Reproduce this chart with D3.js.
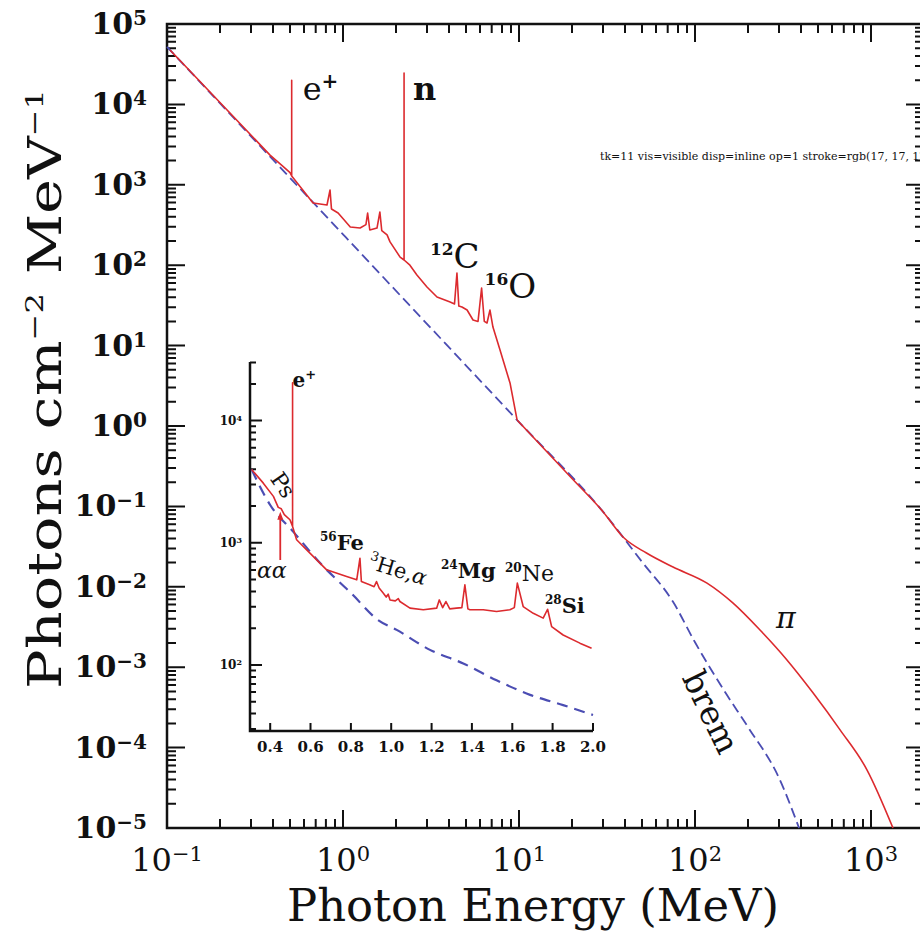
<!DOCTYPE html>
<html>
<head>
<meta charset="utf-8">
<script src="https://cdn.jsdelivr.net/npm/d3@7"></script>
<style>
  body { margin: 0; background: #fff; }
  svg text { font-family: "DejaVu Serif", serif; fill: #111; }
</style>
</head>
<body>
<div id="chart"></div>
<script>
// ---- main spectrum, 0.1 - 10 MeV (lines + continuum), MeV / photons cm^-2 MeV^-1
const lineE = [0.104, 0.385, 0.456, 0.500, 0.511, 0.511, 0.511, 0.676, 0.811, 0.844, 0.86, 0.938,
  1.10, 1.25, 1.35, 1.38, 1.42, 1.56, 1.62, 1.66, 1.78, 1.85, 2.11, 2.223, 2.223, 2.223, 2.40,
  2.63, 3.00, 3.42, 4.06, 4.30, 4.44, 4.55, 4.74, 5.07, 5.48, 5.85, 6.13, 6.35, 6.58, 6.84, 7.11,
  7.80, 8.89, 9.75];
const lineFlux = [4.75e4, 2.34e3, 1.70e3, 1.42e3, 1.29e3, 2.0e4, 1.29e3, 594, 561, 861, 500, 446,
  299, 290, 320, 446, 274, 290, 459, 270, 238, 195, 126, 116, 2.45e4, 116, 100,
  75.5, 53.6, 40.2, 34.8, 33, 80, 31, 30.2, 27.7, 20.8, 20, 52, 20, 19.1, 27.7, 17.0,
  8.8, 3.43, 1.19];

// ---- pion bump continuum above 10 MeV
const pionE = [9.75, 20, 30, 39, 53, 75, 117, 164, 234, 333, 468, 667, 948, 1333];
const pionFlux = [1.19, 0.222, 0.086, 0.0416, 0.0263, 0.0176, 0.0111, 6.3e-3, 2.9e-3, 1.23e-3,
  4.8e-4, 1.66e-4, 5.3e-5, 1.0e-5];

// ---- bremsstrahlung (dashed)
const bremE = [0.1, 1, 10, 30, 50, 75, 100, 150, 200, 300, 390];
const bremFlux = [5.2e4, 242, 1.12, 0.086, 0.0204, 6.5e-3, 2.04e-3, 4.7e-4, 1.8e-4, 4.2e-5, 1.0e-5];

// ---- inset: 0.3 - 2.0 MeV detail
const insetE = [0.308, 0.366, 0.416, 0.44, 0.455, 0.47, 0.498, 0.511, 0.511, 0.511, 0.531, 0.597,
  0.680, 0.779, 0.829, 0.845, 0.852, 0.893, 0.915, 0.927, 0.94, 0.961, 0.975, 0.985, 0.994, 1.02,
  1.035, 1.043, 1.093, 1.159, 1.225, 1.238, 1.255, 1.271, 1.29, 1.323, 1.35, 1.365, 1.38, 1.390,
  1.456, 1.522, 1.588, 1.61, 1.625, 1.654, 1.704, 1.753, 1.775, 1.795, 1.852, 1.935, 1.993];
const insetFlux = [3980, 3080, 2400, 1950, 1900, 1700, 1545, 1360, 2.04e4, 1360, 1060, 824,
  601, 530, 498, 748, 482, 453, 437, 482, 427, 387, 360, 380, 341, 335,
  350, 331, 292, 283, 292, 341, 295, 331, 288, 292, 295, 453, 288, 283,
  283, 274, 283, 295, 468, 301, 265, 242, 286, 206, 176, 151, 137];

const insetBremE = [0.308, 0.40, 0.515, 0.65, 0.80, 0.934, 1.027, 1.192, 1.357, 1.522, 1.688, 1.852, 2.0];
const insetBremFlux = [3980, 2040, 1230, 676, 389, 234, 194, 133, 103, 75, 57, 47, 39];

// ---- tick labels
const xTickExp = [-1, 0, 1, 2, 3];
const yTickExp = [5, 4, 3, 2, 1, 0, -1, -2, -3, -4, -5];
const insetXTicks = [0.4, 0.6, 0.8, 1.0, 1.2, 1.4, 1.6, 1.8, 2.0];
const insetYTickExp = [4, 3, 2];

const WIDTH = 920, HEIGHT = 939;
const RED = "#dc2a2e", BLUE = "#4b4db3", INK = "#111111";

const svg = d3.select("#chart").append("svg")
  .attr("width", WIDTH).attr("height", HEIGHT);

const xScale = d3.scaleLog().domain([0.1, 2000]).range([167, 924]);
const yScale = d3.scaleLog().domain([1e-5, 1e5]).range([828, 24]);
const insetX = d3.scaleLinear().domain([0.3, 2.0]).range([250, 593]);
const insetY = d3.scaleLog().domain([Math.pow(10, 1.46), Math.pow(10, 4.48)]).range([731, 362]);

// log tick helper: majors at decades, minors at 2..9
function logTicks(lo, hi, dom) {
  const major = [], minor = [];
  for (let e = lo; e <= hi; e++) {
    major.push(Math.pow(10, e));
    for (let m = 2; m <= 9; m++) minor.push(m * Math.pow(10, e));
  }
  const inside = v => v >= dom[0] * 0.999 && v <= dom[1] * 1.001;
  return { major: major.filter(inside), minor: minor.filter(inside) };
}

const xt = logTicks(-1, 3, xScale.domain());
const yt = logTicks(-5, 5, yScale.domain());
const insetYt = logTicks(1, 4, insetY.domain());

// superscript text: parts = [[text, size, raise, weight, style]]
function supText(sel, parts) {
  let prev = 0;
  parts.forEach(p => {
    const raise = p[2] || 0;
    sel.append("tspan")
      .attr("font-size", p[1])
      .attr("dy", prev - raise)
      .attr("font-weight", p[3] || null)
      .attr("font-style", p[4] || null)
      .text(p[0]);
    prev = raise;
  });
  return sel;
}

function hTicks(g, scale, values, y, len) {
  g.append("path")
    .attr("class", "tk")
    .attr("d", values.map(v => `M${scale(v).toFixed(1)},${y}V${y + len}`).join(""))
    .attr("fill", "none").attr("stroke", INK).attr("stroke-width", 2);
}
function vTicks(g, scale, values, x, len) {
  g.append("path")
    .attr("class", "tk")
    .attr("d", values.map(v => `M${x},${scale(v).toFixed(1)}H${x + len}`).join(""))
    .attr("fill", "none").attr("stroke", INK).attr("stroke-width", 2);
}

////////////////////////////////////////////////////
// frames and tick marks
////////////////////////////////////////////////////
const axes = svg.append("g");

hTicks(axes, xScale, xt.major, 828, -18);
hTicks(axes, xScale, xt.minor, 828, -9);
hTicks(axes, xScale, xt.major, 24, 18);
hTicks(axes, xScale, xt.minor, 24, 9);
vTicks(axes, yScale, yt.major, 167, 18);
vTicks(axes, yScale, yt.minor, 167, 9);
vTicks(axes, yScale, yt.major, 924, -18);
vTicks(axes, yScale, yt.minor, 924, -9);

axes.append("rect")
  .attr("x", 167).attr("y", 24).attr("width", 924 - 167).attr("height", 828 - 24)
  .attr("fill", "none").attr("stroke", INK).attr("stroke-width", 2.5);

hTicks(axes, insetX, insetXTicks, 731, -8);
vTicks(axes, insetY, insetYt.major, 250, 12);
vTicks(axes, insetY, insetYt.minor, 250, 6);

axes.append("path")
  .attr("d", `M250,362V731H${insetX(2.0)}`)
  .attr("fill", "none").attr("stroke", INK).attr("stroke-width", 2.5);

////////////////////////////////////////////////////
// tick labels + axis titles
////////////////////////////////////////////////////
yTickExp.forEach(e => {
  const t = svg.append("text")
    .attr("x", 147).attr("y", yScale(Math.pow(10, e)) + 10)
    .attr("text-anchor", "end").attr("font-weight", "bold");
  supText(t, [["10", 30], [e < 0 ? "\u2212" + (-e) : String(e), 20, 9]]);
});

xTickExp.forEach(e => {
  const t = svg.append("text")
    .attr("x", xScale(Math.pow(10, e))).attr("y", 871)
    .attr("text-anchor", "middle");
  supText(t, [["10", 32], [e < 0 ? "\u2212" + (-e) : String(e), 21, 10]]);
});

svg.append("text")
  .attr("x", 533).attr("y", 921)
  .attr("text-anchor", "middle").attr("font-size", 45)
  .attr("textLength", 492).attr("lengthAdjust", "spacingAndGlyphs")
  .text("Photon Energy (MeV)");

const yl = svg.append("text")
  .attr("transform", "translate(61,389) rotate(-90)")
  .attr("text-anchor", "middle")
  .attr("textLength", 600).attr("lengthAdjust", "spacingAndGlyphs");
supText(yl, [["Photons cm", 46], ["\u22122", 25, 18], [" MeV", 46], ["\u22121", 25, 18]]);

////////////////////////////////////////////////////
// main curves
////////////////////////////////////////////////////
const plot = svg.append("g");
const mainLine = d3.line().x(d => xScale(d[0])).y(d => yScale(d[1]));

plot.append("path")
  .datum(d3.zip(bremE, bremFlux))
  .attr("d", mainLine.curve(d3.curveMonotoneX))
  .attr("fill", "none").attr("stroke", BLUE).attr("stroke-width", 1.8)
  .attr("stroke-dasharray", "10,5");

plot.append("path")
  .datum(d3.zip(pionE, pionFlux))
  .attr("d", mainLine.curve(d3.curveMonotoneX))
  .attr("fill", "none").attr("stroke", RED).attr("stroke-width", 1.6);

plot.append("path")
  .datum(d3.zip(lineE, lineFlux))
  .attr("d", mainLine.curve(d3.curveLinear))
  .attr("fill", "none").attr("stroke", RED).attr("stroke-width", 1.6)
  .attr("stroke-linejoin", "round");

// annotations
supText(svg.append("text").attr("x", xScale(0.511) + 11).attr("y", 100),
  [["e", 32], ["+", 20, 12, "bold"]]);
svg.append("text").attr("x", xScale(2.223) + 9).attr("y", 100)
  .attr("font-size", 32).attr("font-weight", "bold").text("n");
supText(svg.append("text").attr("x", xScale(4.44) - 27).attr("y", 268),
  [["12", 17, 13, "bold"], ["C", 34]]);
supText(svg.append("text").attr("x", xScale(6.13) + 3).attr("y", 298),
  [["16", 17, 13, "bold"], ["O", 34]]);
svg.append("text").attr("x", 776).attr("y", 628)
  .attr("font-size", 30).attr("font-style", "italic").text("\u03c0");
svg.append("text")
  .attr("transform", "translate(711,712) rotate(64)")
  .attr("text-anchor", "middle").attr("dy", "0.35em")
  .attr("font-size", 33).text("brem");

////////////////////////////////////////////////////
// inset
////////////////////////////////////////////////////
const inset = svg.append("g");

insetXTicks.forEach(v => {
  inset.append("text")
    .attr("x", insetX(v)).attr("y", 752)
    .attr("text-anchor", "middle").attr("font-size", 15).attr("font-weight", "bold")
    .text(v.toFixed(1));
});

insetYTickExp.forEach(e => {
  const t = inset.append("text")
    .attr("x", 242).attr("y", insetY(Math.pow(10, e)) + 4)
    .attr("text-anchor", "end").attr("font-weight", "bold");
  supText(t, [["10", 12], [String(e), 8, 4]]);
});

const insetLine = d3.line().x(d => insetX(d[0])).y(d => insetY(d[1]));

inset.append("path")
  .datum(d3.zip(insetBremE, insetBremFlux))
  .attr("d", insetLine.curve(d3.curveMonotoneX))
  .attr("fill", "none").attr("stroke", BLUE).attr("stroke-width", 2.2)
  .attr("stroke-dasharray", "11,7");

inset.append("path")
  .datum(d3.zip(insetE, insetFlux))
  .attr("d", insetLine.curve(d3.curveLinear))
  .attr("fill", "none").attr("stroke", RED).attr("stroke-width", 1.6)
  .attr("stroke-linejoin", "round");

const arrowX = insetX(0.45), arrowTip = insetY(1900) + 3;
inset.append("path")
  .attr("d", `M${arrowX},560V${arrowTip + 6}`)
  .attr("fill", "none").attr("stroke", RED).attr("stroke-width", 1.8);
inset.append("path")
  .attr("d", `M${arrowX},${arrowTip}l-3,8h6z`)
  .attr("fill", RED);

supText(inset.append("text").attr("x", insetX(0.511)).attr("y", 387),
  [["e", 20, 0, "bold"], ["+", 13, 8, "bold"]]);
inset.append("text")
  .attr("transform", "translate(283,485) rotate(55)")
  .attr("text-anchor", "middle").attr("dy", "0.35em")
  .attr("font-size", 22).text("Ps");
inset.append("text").attr("x", 257).attr("y", 578)
  .attr("font-size", 22).attr("font-style", "italic").text("\u03b1\u03b1");
supText(inset.append("text").attr("x", 320).attr("y", 550),
  [["56", 12, 9, "bold"], ["Fe", 21, 0, "bold"]]);
supText(inset.append("text").attr("transform", "translate(367,568) rotate(17)"),
  [["3", 13, 9], ["He,", 21], ["\u03b1", 21, 0, null, "italic"]]);
supText(inset.append("text").attr("x", 441).attr("y", 578),
  [["24", 12, 9, "bold"], ["Mg", 21, 0, "bold"]]);
supText(inset.append("text").attr("x", 505).attr("y", 581),
  [["20", 12, 9, "bold"], ["Ne", 22]]);
supText(inset.append("text").attr("x", 545).attr("y", 613),
  [["28", 12, 9, "bold"], ["Si", 21, 0, "bold"]]);

// temporary diagnostic line
const tk = document.querySelectorAll("path.tk");
const cs = getComputedStyle(tk[0]);
svg.append("text").attr("x", 600).attr("y", 160).attr("font-size", 11)
  .text("tk=" + tk.length + " vis=" + cs.visibility + " disp=" + cs.display + " op=" + cs.opacity +
    " stroke=" + cs.stroke + " sw=" + cs.strokeWidth + " bb=" + Math.round(tk[0].getBoundingClientRect().width));
</script>
</body>
</html>
